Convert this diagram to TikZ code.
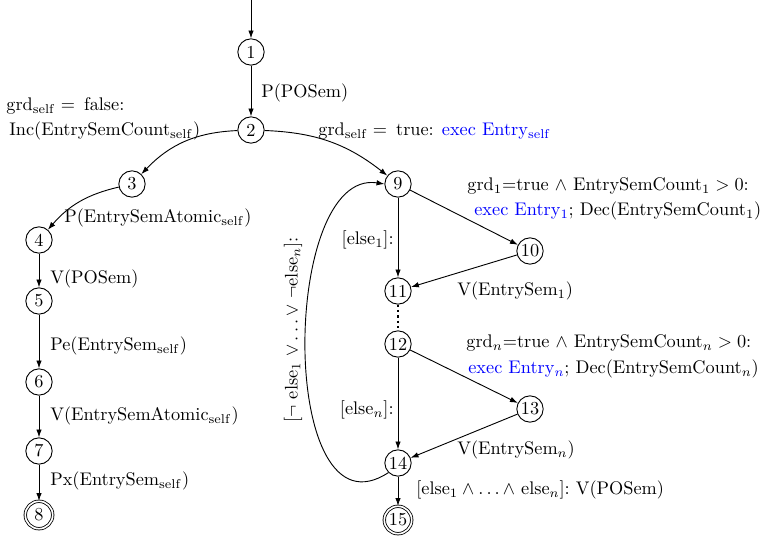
\documentclass[tikz,border=0pt]{standalone}
\usetikzlibrary{arrows.meta}
\begin{document}
\begin{tikzpicture}[x=0.547pt,y=-0.547pt,
  st/.style={circle,draw,line width=0.5pt,minimum size=14.4pt,inner sep=0.3pt},
  fin/.style={circle,draw,line width=0.45pt,double,double distance=0.9pt,minimum size=15pt,inner sep=0pt},
  tr/.style={line width=0.5pt,-{Latex[length=4.3pt,width=3pt]}},
  lb/.style={inner sep=0pt,anchor=west},
  lbr/.style={inner sep=0pt,anchor=east}]
\useasboundingbox (0,0) rectangle (770,538);
\node[st] (n1) at (251,52) {1};
\node[st] (n2) at (251,130) {2};
\node[st] (n3) at (132,184) {3};
\node[st] (n4) at (39,240) {4};
\node[st] (n5) at (39,301) {5};
\node[st] (n6) at (39,382) {6};
\node[st] (n7) at (39,451) {7};
\node[fin] (n8) at (39,515) {8};
\node[st] (n9) at (398,184) {9};
\node[st] (n10) at (530,251) {10};
\node[st] (n11) at (398,291) {11};
\node[st] (n12) at (398,344) {12};
\node[st] (n13) at (530,409) {13};
\node[st] (n14) at (398,463) {14};
\node[fin] (n15) at (398,520) {15};
\coordinate (start) at (251,0);

\draw[tr] (start) -- (n1);
\draw[tr] (n1) -- (n2);
\draw[tr] (n2) to[bend right=22] (n3);
\draw[tr] (n2) to[bend left=18] (n9);
\draw[tr] (n3) to[bend right=18] (n4);
\draw[tr] (n4) -- (n5);
\draw[tr] (n5) -- (n6);
\draw[tr] (n6) -- (n7);
\draw[tr] (n7) -- (n8);
\draw[tr] (n9) -- (n10);
\draw[tr] (n9) -- (n11);
\draw[tr] (n10) -- (n11);
\draw[line width=1.3pt,dash pattern=on 1.3pt off 1.6pt] (n11) -- (n12);
\draw[tr] (n12) -- (n13);
\draw[tr] (n12) -- (n14);
\draw[tr] (n13) -- (n14);
\draw[tr] (n14) -- (n15);
\draw[tr] (n14.south west) .. controls (278,545) and (280,168) .. (n9.west);

\node[lb] (l12) at (261,93) {P(POSem)};
\node[lb] (l23a) at (6,106) {grd$_{\mathrm{self}} =$\enspace false:};
\node[lb] (l23b) at (9,131) {Inc(EntrySemCount$_{\mathrm{self}}$)};
\node[lb] (l29) at (318,131) {grd$_{\mathrm{self}} =$\enspace true: \textcolor{blue}{exec Entry$_{\mathrm{self}}$}};
\node[lb] (l34) at (64,218) {P(EntrySemAtomic$_{\mathrm{self}}$)};
\node[lb] (l45) at (50,279) {V(POSem)};
\node[lb] (l56) at (50,346) {Pe(EntrySem$_{\mathrm{self}}$)};
\node[lb] (l67) at (50,416) {V(EntrySemAtomic$_{\mathrm{self}}$)};
\node[lb] (l78) at (50,481) {Px(EntrySem$_{\mathrm{self}}$)};
\node[lb] (l910a) at (467,186) {grd$_1$=true $\wedge$ EntrySemCount$_1 > 0$:};
\node[lb] (l910b) at (474,211) {\textcolor{blue}{exec Entry$_1$}; Dec(EntrySemCount$_1$)};
\node[lbr] (l911) at (394,240) {[else$_1$]:};
\node[lb] (l1011) at (457,291) {V(EntrySem$_1$)};
\node[lb] (l1213a) at (466,343) {grd$_n$=true $\wedge$ EntrySemCount$_n > 0$:};
\node[lb] (l1213b) at (468,369) {\textcolor{blue}{exec Entry$_n$}; Dec(EntrySemCount$_n$)};
\node[lbr] (l1214) at (394,410) {[else$_n$]:};
\node[lb] (l1314) at (457,450) {V(EntrySem$_n$)};
\node[lb] (l1415) at (416,490) {[else$_1 \wedge \ldots \wedge$ else$_n$]:\ V(POSem)};
\node[inner sep=0pt,rotate=90] (l149) at (293,330) {[$\neg$ else$_1$ $\vee \ldots \vee$ $\neg$else$_n$]:};
\end{tikzpicture}
\end{document}
